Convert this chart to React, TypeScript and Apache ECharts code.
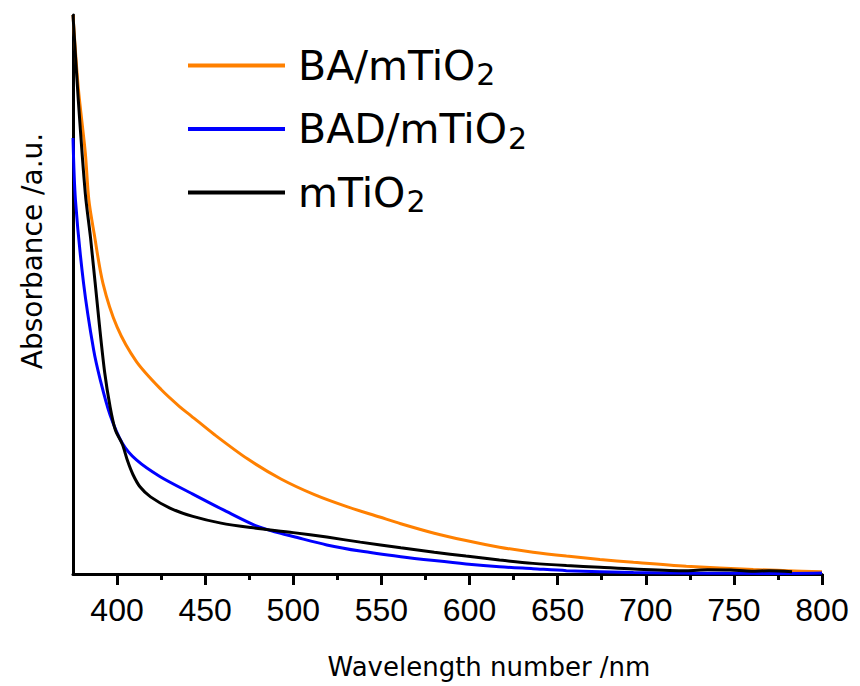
import React, { useEffect, useRef } from 'react';
import * as echarts from 'echarts';

const seriesNames = ['BA/mTiO2', 'BAD/mTiO2', 'mTiO2'];
const seriesColors = ['#FF8000', '#0000FF', '#000000'];

const baX = [375, 378, 382, 384, 387, 392, 400, 411, 425, 436, 442, 455, 474, 493, 512, 530, 549, 561, 580, 598, 617, 636, 655, 674, 693, 723, 761, 780, 800];
const baY = [1.0, 0.87, 0.753, 0.669, 0.609, 0.52, 0.442, 0.38, 0.33, 0.298, 0.283, 0.25, 0.206, 0.17, 0.142, 0.121, 0.102, 0.09, 0.073, 0.06, 0.048, 0.039, 0.032, 0.026, 0.021, 0.014, 0.008, 0.006, 0.004];

const badX = [375, 376.4, 381, 386.7, 390.5, 396, 403, 411, 424.5, 443, 462, 479, 490, 500, 519, 538, 561, 580, 598, 617, 636, 655, 693, 730, 770, 800];
const badY = [0.78, 0.669, 0.52, 0.401, 0.347, 0.285, 0.234, 0.204, 0.174, 0.143, 0.112, 0.086, 0.075, 0.067, 0.052, 0.041, 0.031, 0.024, 0.018, 0.013, 0.0095, 0.006, 0.0025, 0.0015, 0.001, 0.002];

const mX = [375, 378, 382, 385, 390, 393, 396, 399, 403, 406, 409, 413, 419, 430, 443, 459, 476, 500, 519, 538, 561, 580, 598, 617, 636, 655, 674, 693, 723, 735, 748, 760, 770, 783];
const mY = [1.0, 0.848, 0.68, 0.6, 0.445, 0.36, 0.3, 0.258, 0.232, 0.202, 0.178, 0.156, 0.138, 0.118, 0.103, 0.091, 0.083, 0.074, 0.066, 0.057, 0.047, 0.039, 0.032, 0.025, 0.019, 0.015, 0.012, 0.009, 0.006, 0.0075, 0.007, 0.005, 0.0058, 0.004];

const majorTicks = [400, 450, 500, 550, 600, 650, 700, 750, 800];
const minorTicks = [425, 475, 525, 575, 625, 675, 725, 775];

const xTitle = 'Wavelength number /nm';
const yTitle = 'Absorbance /a.u.';

const toPairs = (xs: number[], ys: number[]) => xs.map((x, i) => [x, ys[i]]);

export default function App() {
  const ref = useRef<HTMLDivElement>(null);
  useEffect(() => {
    const chart = echarts.init(ref.current!, null, { renderer: 'svg' });
    const datasets = [toPairs(baX, baY), toPairs(badX, badY), toPairs(mX, mY)];
    chart.setOption({
      animation: false,
      backgroundColor: '#ffffff',
      grid: { left: 73, right: 38, top: 15, bottom: 112, containLabel: false, outerBoundsMode: 'none' },
      legend: {
        orient: 'vertical',
        left: 188,
        top: 45,
        padding: 0,
        itemGap: 19,
        itemWidth: 97,
        itemHeight: 4,
        icon: 'rect',
        data: seriesNames,
        formatter: (name: string) => '{t|' + name.slice(0, -1) + '}{s|' + name.slice(-1) + '}',
        textStyle: {
          rich: {
            t: { fontFamily: 'DejaVu Sans', fontSize: 41, color: '#000', lineHeight: 48, padding: [0, 0, 0, 8] },
            s: { fontFamily: 'DejaVu Sans', fontSize: 30, color: '#000', padding: [18, 0, 0, 1] },
          },
        },
      },
      xAxis: [
        {
          type: 'value',
          min: 375,
          max: 800,
          position: 'bottom',
          axisLine: { show: true, onZero: false, lineStyle: { color: '#000', width: 3 } },
          axisTick: { show: true, customValues: majorTicks, length: 11, lineStyle: { color: '#000', width: 3 } },
          axisLabel: {
            show: true,
            customValues: majorTicks,
            margin: 20,
            fontFamily: 'Liberation Sans',
            fontSize: 32,
            color: '#000',
          },
          splitLine: { show: false },
        },
        {
          type: 'value',
          min: 375,
          max: 800,
          position: 'bottom',
          axisLine: { show: false },
          axisTick: { show: true, customValues: minorTicks, length: 6, lineStyle: { color: '#000', width: 3 } },
          axisLabel: { show: false },
          splitLine: { show: false },
        },
      ],
      yAxis: {
        type: 'value',
        min: 0,
        max: 1,
        axisLine: { show: true, onZero: false, lineStyle: { color: '#000', width: 3 } },
        axisTick: { show: false },
        axisLabel: { show: false },
        splitLine: { show: false },
      },
      graphic: [
        {
          type: 'text',
          x: 489,
          y: 667,
          style: { text: xTitle, fontFamily: 'DejaVu Sans', fontSize: 26, fill: '#000', align: 'center', verticalAlign: 'middle' },
        },
        {
          type: 'text',
          x: 32,
          y: 251,
          rotation: Math.PI / 2,
          style: { text: yTitle, fontFamily: 'DejaVu Sans', fontSize: 28, fill: '#000', align: 'center', verticalAlign: 'middle' },
        },
      ],
      series: seriesNames.map((name, i) => ({
        name,
        type: 'line',
        xAxisIndex: 0,
        data: datasets[i],
        showSymbol: false,
        symbol: 'none',
        smooth: 0.3,
        color: seriesColors[i],
        lineStyle: { color: seriesColors[i], width: 3 },
        z: 2 + i,
      })),
    });
    return () => chart.dispose();
  }, []);
  return <div ref={ref} style={{ width: 860, height: 686, position: 'absolute', left: 0, top: 0 }} />;
}
